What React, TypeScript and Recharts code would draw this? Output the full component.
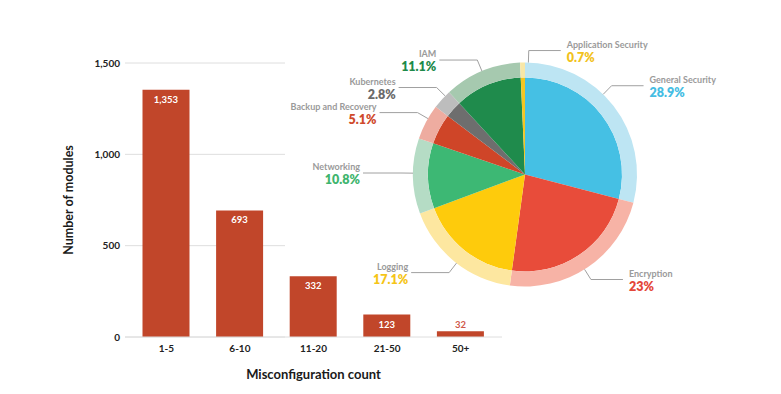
import React from 'react';
import { BarChart, Bar, XAxis, YAxis, CartesianGrid, LabelList, Label, PieChart, Pie, Cell } from 'recharts';

// ---- DATA ----
const categories = ['1-5', '6-10', '11-20', '21-50', '50+'];
const moduleCounts = [1353, 693, 332, 123, 32];
const yTicks = [0, 500, 1000, 1500];

const pieNames = ['General Security', 'Encryption', 'Logging', 'Networking', 'Backup and Recovery', 'Kubernetes', 'IAM', 'Application Security'];
const pieShares = [28.9, 23, 17.1, 10.8, 5.1, 2.8, 11.1, 0.7];

// ---- STYLE / LAYOUT ----
const pieColors = ['#45c0e4', '#e84c3a', '#fecb0c', '#3db874', '#cf4528', '#6e6e6e', '#1f8b4c', '#f3c623'];
const ringColors = ['#bde5f3', '#f7b3a6', '#fde7a0', '#b5dcc5', '#eeaca0', '#bdbdbd', '#a6c9af', '#f8e7a7'];
const pctColors = ['#45bde3', '#e4473a', '#f5c518', '#3fb56e', '#cf4a2c', '#6b6b6b', '#1e8a4a', '#f2c21b'];
const labelShift = [-8, 1.7, -1, 1.5, 2, 2.3, 0, 3]; // clockwise degrees nudge for label leader
const FONT = 'Lato, "Open Sans", sans-serif';
const BAR_COLOR = '#c1462a';

const barData = categories.map((c, i) => ({ category: c, count: moduleCounts[i] }));
const pieData = pieNames.map((n, i) => ({ name: n, value: pieShares[i] }));

const RAD = Math.PI / 180;

function BarValueLabel(props: any) {
  const { x, y, width, height, value } = props;
  const inside = height > 15;
  return (
    <text
      x={x + width / 2}
      y={inside ? y + 13 : y - 3.5}
      textAnchor="middle"
      fontFamily={FONT}
      fontWeight={700}
      fontSize={9.5}
      fill={inside ? '#ffffff' : '#d0584a'}
    >
      {Number(value).toLocaleString('en-US')}
    </text>
  );
}

function renderPieLabel(props: any) {
  const { cx, cy, midAngle, outerRadius, index } = props;
  const a = (midAngle - labelShift[index]) * RAD;
  const cos = Math.cos(a);
  const sin = Math.sin(a);
  const sx = cx + outerRadius * cos;
  const sy = cy - outerRadius * sin;
  const ex = cx + (outerRadius + 12) * cos;
  const ey = cy - (outerRadius + 12) * sin;
  const right = cos >= 0;
  const lx = ex + (right ? 32 : -38);
  const tx = lx + (right ? 6 : -3);
  const anchor = right ? 'start' : 'end';
  return (
    <g key={`pl-${index}`}>
      <polyline points={`${sx},${sy} ${ex},${ey} ${lx},${ey}`} fill="none" stroke="#a0a0a0" strokeWidth={1} />
      <text x={tx} y={ey - 3} textAnchor={anchor} fontFamily={FONT} fontWeight={700} fontSize={9} fill="#9a9a9a">
        {pieNames[index]}
      </text>
      <text x={tx} y={ey + 11} textAnchor={anchor} fontFamily={FONT} fontWeight={800} fontSize={12.5} fill={pctColors[index]}>
        {`${pieShares[index]}%`}
      </text>
    </g>
  );
}

export default function App() {
  return (
    <div style={{ position: 'absolute', left: 0, top: 0, width: 781, height: 394, background: '#ffffff' }}>
      <div style={{ position: 'absolute', left: 0, top: 0 }}>
        <BarChart width={781} height={394} data={barData} margin={{ top: 63, right: 279, bottom: 7, left: 65 }}>
          <CartesianGrid
            vertical={false}
            horizontal={(p: any) => (
              <line key={p.key ?? `h-${p.y1}`} x1={p.x1} x2={p.x1 + 160} y1={p.y1} y2={p.y2} stroke="#dedede" strokeWidth={1} />
            )}
          />
          <XAxis
            dataKey="category"
            height={50}
            padding={{ left: 4.5, right: 4.5 }}
            tickLine={false}
            tickSize={0}
            tickMargin={8}
            axisLine={{ stroke: '#dedede' }}
            tick={{ fontFamily: FONT, fontWeight: 700, fontSize: 10, fill: '#222' }}
          >
            <Label
              content={(lp: any) => {
                const vb = lp.viewBox || {};
                return (
                  <text x={vb.x + vb.width / 2} y={vb.y + 41.5} textAnchor="middle" fontFamily={FONT} fontWeight={700} fontSize={13} fill="#1a1a1a">
                    Misconfiguration count
                  </text>
                );
              }}
            />
          </XAxis>
          <YAxis
            width={60}
            domain={[0, 1500]}
            ticks={yTicks}
            tickFormatter={(v: number) => v.toLocaleString('en-US')}
            axisLine={false}
            tickLine={false}
            tickSize={0}
            tickMargin={5}
            tick={{ fontFamily: FONT, fontWeight: 700, fontSize: 10, fill: '#222' }}
          >
            <Label
              content={(lp: any) => {
                const vb = lp.viewBox || {};
                const x = vb.x + 7.5;
                const y = vb.y + vb.height / 2;
                return (
                  <text x={x} y={y} transform={`rotate(-90, ${x}, ${y})`} textAnchor="middle" fontFamily={FONT} fontWeight={700} fontSize={12.5} fill="#1a1a1a">
                    Number of modules
                  </text>
                );
              }}
            />
          </YAxis>
          <Bar dataKey="count" fill={BAR_COLOR} barSize={47} isAnimationActive={false}>
            <LabelList dataKey="count" content={BarValueLabel} />
          </Bar>
        </BarChart>
      </div>
      <div style={{ position: 'absolute', left: 0, top: 0, pointerEvents: 'none' }}>
        <PieChart width={781} height={394} margin={{ top: 0, right: 0, bottom: 0, left: 0 }}>
          <Pie
            data={pieData}
            dataKey="value"
            nameKey="name"
            cx={525}
            cy={174.5}
            innerRadius={0}
            outerRadius={97}
            startAngle={90}
            endAngle={-270}
            stroke="none"
            isAnimationActive={false}
            labelLine={false}
          >
            {pieData.map((d, i) => (
              <Cell key={`c-${i}`} fill={pieColors[i]} stroke="none" />
            ))}
          </Pie>
          <Pie
            data={pieData}
            dataKey="value"
            nameKey="name"
            cx={525}
            cy={174.5}
            innerRadius={97}
            outerRadius={112}
            startAngle={90}
            endAngle={-270}
            stroke="none"
            isAnimationActive={false}
            labelLine={false}
            label={renderPieLabel}
          >
            {pieData.map((d, i) => (
              <Cell key={`r-${i}`} fill={ringColors[i]} stroke="none" />
            ))}
          </Pie>
        </PieChart>
      </div>
    </div>
  );
}
